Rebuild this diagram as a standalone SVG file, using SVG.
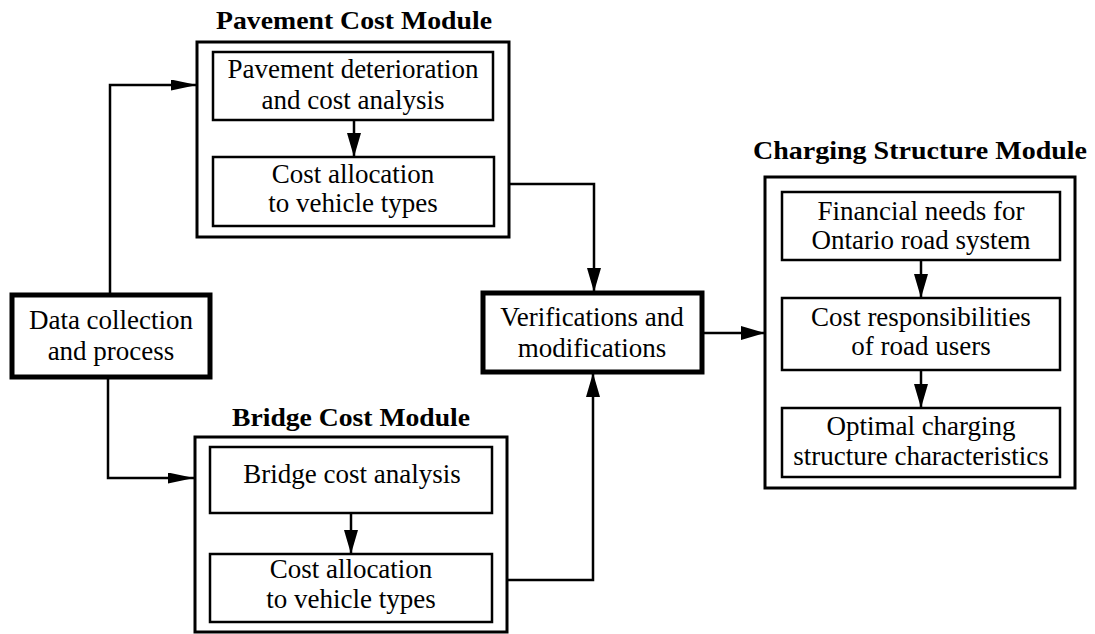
<svg xmlns="http://www.w3.org/2000/svg" width="1095" height="634" viewBox="0 0 1095 634">
<defs>
<style>
text{font-family:"Liberation Serif","Times New Roman",serif;font-size:27px;fill:#000;text-anchor:middle}
.title{font-weight:bold;font-size:26px}
.outer{fill:none;stroke:#000;stroke-width:3}
.inner{fill:#fff;stroke:#000;stroke-width:2.5}
.thick{fill:#fff;stroke:#000;stroke-width:5}
.conn{fill:none;stroke:#000;stroke-width:2.5}
</style>
<marker id="ah" markerUnits="userSpaceOnUse" markerWidth="24" markerHeight="14" viewBox="0 0 24 14" refX="24" refY="7" orient="auto">
<path d="M0,0 L24,7 L0,14 z" fill="#000"/>
</marker>
<marker id="ahs" markerUnits="userSpaceOnUse" markerWidth="26" markerHeight="11" viewBox="0 0 26 11" refX="26" refY="5.5" orient="auto">
<path d="M0,0 L26,5.5 L0,11 z" fill="#000"/>
</marker>
</defs>
<rect width="1095" height="634" fill="#fff"/>

<g id="connectors">
<polyline class="conn" points="110,295 110,85 197,85" marker-end="url(#ahs)"/>
<polyline class="conn" points="108,377 108,478 194,478" marker-end="url(#ahs)"/>
<polyline class="conn" points="509,184 594,184 594,292" marker-end="url(#ah)"/>
<polyline class="conn" points="507,580 593,580 593,373" marker-end="url(#ah)"/>
<line class="conn" x1="702" y1="333" x2="765" y2="333" marker-end="url(#ah)"/>
<line class="conn" x1="354" y1="120" x2="354" y2="157" marker-end="url(#ah)"/>
<line class="conn" x1="351" y1="513" x2="351" y2="554" marker-end="url(#ah)"/>
<line class="conn" x1="921" y1="260" x2="921" y2="298" marker-end="url(#ah)"/>
<line class="conn" x1="921" y1="370" x2="921" y2="408" marker-end="url(#ah)"/>
</g>

<g id="data">
<rect class="thick" x="12" y="295" width="198" height="82"/>
<text x="111" y="329">Data collection</text>
<text x="111" y="360">and process</text>
</g>

<g id="pavement-module">
<text class="title" x="354" y="29" textLength="276" lengthAdjust="spacingAndGlyphs">Pavement Cost Module</text>
<rect class="outer" x="197" y="42" width="312" height="195"/>
<g id="pavement-deterioration">
<rect class="inner" x="213" y="52" width="280" height="68"/>
<text x="353" y="78">Pavement deterioration</text>
<text x="353" y="109">and cost analysis</text>
</g>
<g id="pavement-allocation">
<rect class="inner" x="213" y="157" width="281" height="69"/>
<text x="353" y="183">Cost allocation</text>
<text x="353" y="212">to vehicle types</text>
</g>
</g>

<g id="bridge-module">
<text class="title" x="351" y="426" textLength="238" lengthAdjust="spacingAndGlyphs">Bridge Cost Module</text>
<rect class="outer" x="195" y="437" width="312" height="195"/>
<g id="bridge-analysis">
<rect class="inner" x="210" y="447" width="282" height="66"/>
<text x="352" y="483">Bridge cost analysis</text>
</g>
<g id="bridge-allocation">
<rect class="inner" x="210" y="554" width="282" height="68"/>
<text x="351" y="578">Cost allocation</text>
<text x="351" y="608">to vehicle types</text>
</g>
</g>

<g id="verifications">
<rect class="thick" x="483" y="293" width="219" height="79"/>
<text x="592" y="326">Verifications and</text>
<text x="592" y="357">modifications</text>
</g>

<g id="charging-module">
<text class="title" x="920" y="159" textLength="334" lengthAdjust="spacingAndGlyphs">Charging Structure Module</text>
<rect class="outer" x="765" y="177" width="310" height="311"/>
<g id="financial-needs">
<rect class="inner" x="782" y="192" width="278" height="68"/>
<text x="921" y="220">Financial needs for</text>
<text x="921" y="249">Ontario road system</text>
</g>
<g id="cost-responsibilities">
<rect class="inner" x="782" y="298" width="278" height="72"/>
<text x="921" y="326">Cost responsibilities</text>
<text x="921" y="355">of road users</text>
</g>
<g id="optimal-charging">
<rect class="inner" x="782" y="408" width="278" height="69"/>
<text x="921" y="435">Optimal charging</text>
<text x="921" y="465">structure characteristics</text>
</g>
</g>
</svg>
